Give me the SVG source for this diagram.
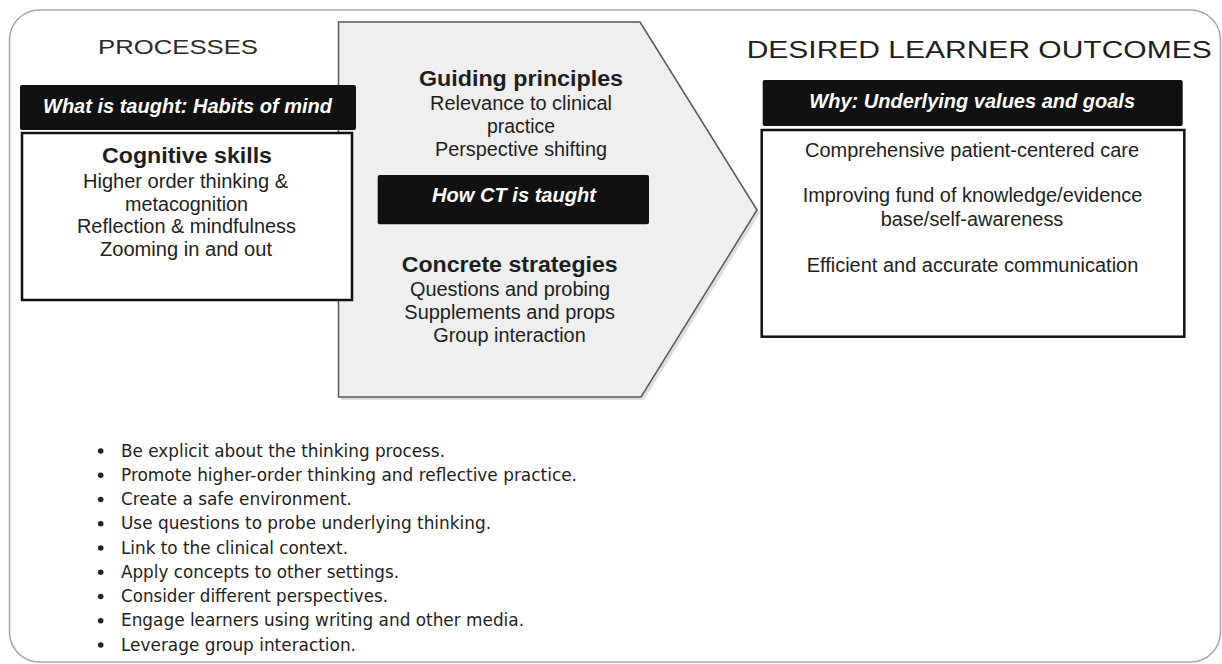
<svg xmlns="http://www.w3.org/2000/svg" width="1222" height="664" viewBox="0 0 1222 664">
<style>
.t{font-family:"Liberation Sans",Arial,sans-serif;fill:#1e1e1e;text-anchor:middle}
.w{font-weight:bold;font-style:italic;fill:#ffffff;font-size:20px}
.body{font-size:19.5px}
.hd{font-size:22px;font-weight:bold}
.cap{font-size:20px;fill:#2a2a2a}
.bar{fill:#111111}
.box{fill:#ffffff;stroke:#111111;stroke-width:2.5}
.bl{font-family:"DejaVu Sans",Verdana,sans-serif;font-size:17px;fill:#222222}
.dot{fill:#222222}
</style>
<rect width="1222" height="664" fill="#ffffff"/>
<g id="frame">
<rect x="9.5" y="10" width="1211" height="652" rx="30" ry="30" fill="#ffffff" stroke="#a8a8a8" stroke-width="1.6"/>
</g>

<g id="processes">
<text class="t cap" x="178" y="54.3" textLength="160" lengthAdjust="spacingAndGlyphs">PROCESSES</text>
</g>

<g id="arrow-how">
<polygon points="341,25 643,25 760,213 644,400 341,400" fill="#c8c8c8" opacity="0.6"/>
<polygon points="338.5,22 640,22 757,210 641,397 338.5,397" fill="#efefef" stroke="#5a5a5a" stroke-width="1.5"/>
<text class="t hd" x="521" y="86" textLength="204" lengthAdjust="spacingAndGlyphs">Guiding principles</text>
<text class="t body" x="521" y="110" textLength="182" lengthAdjust="spacingAndGlyphs">Relevance to clinical</text>
<text class="t body" x="521" y="133.3" textLength="68" lengthAdjust="spacingAndGlyphs">practice</text>
<text class="t body" x="521" y="156" textLength="172" lengthAdjust="spacingAndGlyphs">Perspective shifting</text>
<rect class="bar" x="377.7" y="175" width="271.3" height="49.3" rx="2"/>
<text class="t w" x="514" y="202.3" textLength="164" lengthAdjust="spacingAndGlyphs">How CT is taught</text>
<text class="t hd" x="509.7" y="271.7" textLength="216" lengthAdjust="spacingAndGlyphs">Concrete strategies</text>
<text class="t body" x="510" y="296" textLength="200" lengthAdjust="spacingAndGlyphs">Questions and probing</text>
<text class="t body" x="509.7" y="319.3" textLength="210.7" lengthAdjust="spacingAndGlyphs">Supplements and props</text>
<text class="t body" x="509.5" y="341.7" textLength="152.4" lengthAdjust="spacingAndGlyphs">Group interaction</text>
</g>

<g id="habits-of-mind">
<rect class="bar" x="20" y="85" width="336" height="45" rx="2"/>
<text class="t w" x="187.5" y="113" textLength="289" lengthAdjust="spacingAndGlyphs">What is taught: Habits of mind</text>
<rect class="box" x="22" y="133" width="330" height="167"/>
<text class="t hd" x="187" y="163" textLength="170" lengthAdjust="spacingAndGlyphs">Cognitive skills</text>
<text class="t body" x="185.5" y="187.7" textLength="205" lengthAdjust="spacingAndGlyphs">Higher order thinking &amp;</text>
<text class="t body" x="186.5" y="210.5" textLength="123" lengthAdjust="spacingAndGlyphs">metacognition</text>
<text class="t body" x="186.5" y="233" textLength="219" lengthAdjust="spacingAndGlyphs">Reflection &amp; mindfulness</text>
<text class="t body" x="186" y="256" textLength="172" lengthAdjust="spacingAndGlyphs">Zooming in and out</text>
</g>

<g id="outcomes-title">
<text class="t" x="979.2" y="58.3" font-size="23" fill="#1e1e1e" textLength="465" lengthAdjust="spacingAndGlyphs">DESIRED LEARNER OUTCOMES</text>
</g>

<g id="values-goals">
<rect class="bar" x="762.7" y="80" width="420" height="46" rx="2"/>
<text class="t w" x="972.2" y="108.3" textLength="325.7" lengthAdjust="spacingAndGlyphs">Why: Underlying values and goals</text>
<rect class="box" x="761.7" y="130" width="422.6" height="206.7"/>
<text class="t body" x="972" y="156.7" textLength="334" lengthAdjust="spacingAndGlyphs">Comprehensive patient-centered care</text>
<text class="t body" x="972.5" y="202.3" textLength="339.6" lengthAdjust="spacingAndGlyphs">Improving fund of knowledge/evidence</text>
<text class="t body" x="972" y="225.7" textLength="182.6" lengthAdjust="spacingAndGlyphs">base/self-awareness</text>
<text class="t body" x="972.5" y="271.7" textLength="331.6" lengthAdjust="spacingAndGlyphs">Efficient and accurate communication</text>
</g>

<g id="tips">
<circle class="dot" cx="100.7" cy="451" r="2.8"/>
<text class="bl" x="121" y="456.5" textLength="324" lengthAdjust="spacingAndGlyphs">Be explicit about the thinking process.</text>
<circle class="dot" cx="100.7" cy="475.25" r="2.8"/>
<text class="bl" x="121" y="480.75" textLength="456" lengthAdjust="spacingAndGlyphs">Promote higher-order thinking and reflective practice.</text>
<circle class="dot" cx="100.7" cy="499.5" r="2.8"/>
<text class="bl" x="121" y="505" textLength="231" lengthAdjust="spacingAndGlyphs">Create a safe environment.</text>
<circle class="dot" cx="100.7" cy="523.75" r="2.8"/>
<text class="bl" x="121" y="529.25" textLength="370" lengthAdjust="spacingAndGlyphs">Use questions to probe underlying thinking.</text>
<circle class="dot" cx="100.7" cy="548" r="2.8"/>
<text class="bl" x="121" y="553.5" textLength="227" lengthAdjust="spacingAndGlyphs">Link to the clinical context.</text>
<circle class="dot" cx="100.7" cy="572.25" r="2.8"/>
<text class="bl" x="121" y="577.75" textLength="278" lengthAdjust="spacingAndGlyphs">Apply concepts to other settings.</text>
<circle class="dot" cx="100.7" cy="596.5" r="2.8"/>
<text class="bl" x="121" y="602" textLength="267" lengthAdjust="spacingAndGlyphs">Consider different perspectives.</text>
<circle class="dot" cx="100.7" cy="620.75" r="2.8"/>
<text class="bl" x="121" y="626.25" textLength="403" lengthAdjust="spacingAndGlyphs">Engage learners using writing and other media.</text>
<circle class="dot" cx="100.7" cy="645" r="2.8"/>
<text class="bl" x="121" y="650.5" textLength="235" lengthAdjust="spacingAndGlyphs">Leverage group interaction.</text>
</g>
</svg>
